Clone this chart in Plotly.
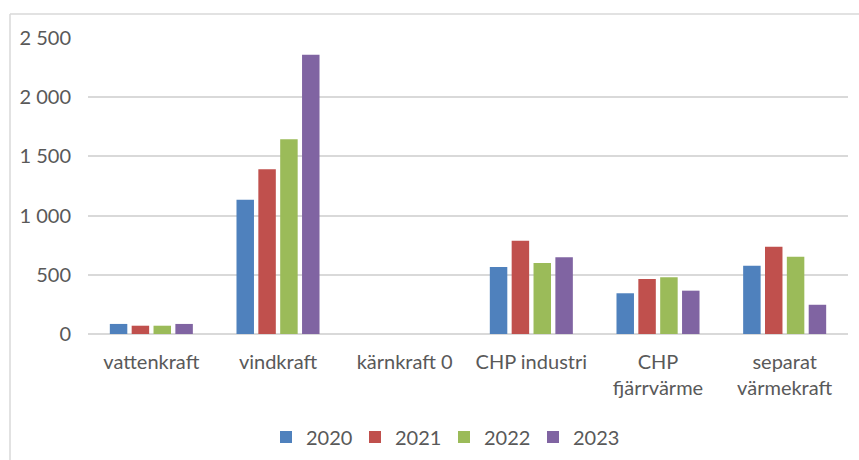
import plotly.graph_objects as go

categories = ["vattenkraft", "vindkraft", "kärnkraft 0", "CHP industri", "CHP<br>fjärrvärme", "separat<br>värmekraft"]
years = ["2020", "2021", "2022", "2023"]
v2020 = [85, 1134, 0, 566, 344, 577]
v2021 = [70, 1391, 0, 788, 465, 737]
v2022 = [70, 1644, 0, 600, 479, 653]
v2023 = [85, 2359, 0, 648, 366, 247]
colors = ["#4f81bd", "#c0504d", "#9bbb59", "#8064a2"]
ytickvals = [0, 500, 1000, 1500, 2000, 2500]
yticktext = ["0", "500", "1 000", "1 500", "2 000", "2 500"]

series = [v2020, v2021, v2022, v2023]
fig = go.Figure()
for name, vals, col in zip(years, series, colors):
    fig.add_trace(go.Bar(x=categories, y=vals, name=name, marker=dict(color=col, line=dict(width=0))))

W, H = 859, 460
L, R, T, B = 88, 11, 38, 126
pw, ph = W - L - R, H - T - B

fig.update_layout(
    width=W, height=H,
    margin=dict(l=L, r=R, t=T, b=B, autoexpand=False),
    paper_bgcolor="white", plot_bgcolor="white",
    barmode="group", bargap=0.31, bargroupgap=0.2,
    font=dict(family="Lato, 'Open Sans', sans-serif", size=20, color="#595959"),
    showlegend=True,
    legend=dict(orientation="h", x=(444 - L) / pw, xanchor="center",
                y=-(437 - (T + ph)) / ph, yanchor="middle",
                font=dict(size=20, color="#595959"), itemwidth=30, entrywidth=44,
                traceorder="normal"),
    xaxis=dict(showgrid=False, showline=False, ticks="", tickfont=dict(size=20),
               ticklabelstandoff=14),
    yaxis=dict(range=[0, 2500], tickvals=ytickvals, ticktext=yticktext,
               showgrid=True, gridcolor="#d9d9d9", gridwidth=1.5,
               zeroline=True, zerolinecolor="#d9d9d9", zerolinewidth=1.5,
               showline=False, ticks="", ticklabelstandoff=16, tickfont=dict(size=20)),
    shapes=[
        dict(type="line", xref="paper", yref="paper",
             x0=(10 - L) / pw, x1=(W - L) / pw, y0=1 + (T - 14) / ph, y1=1 + (T - 14) / ph,
             line=dict(color="#d9d9d9", width=1.5)),
        dict(type="line", xref="paper", yref="paper",
             x0=(10 - L) / pw, x1=(10 - L) / pw, y0=1 + (T - 14) / ph, y1=-(H - (T + ph)) / ph,
             line=dict(color="#d9d9d9", width=1.5)),
    ],
)
fig.write_html("out.html")
